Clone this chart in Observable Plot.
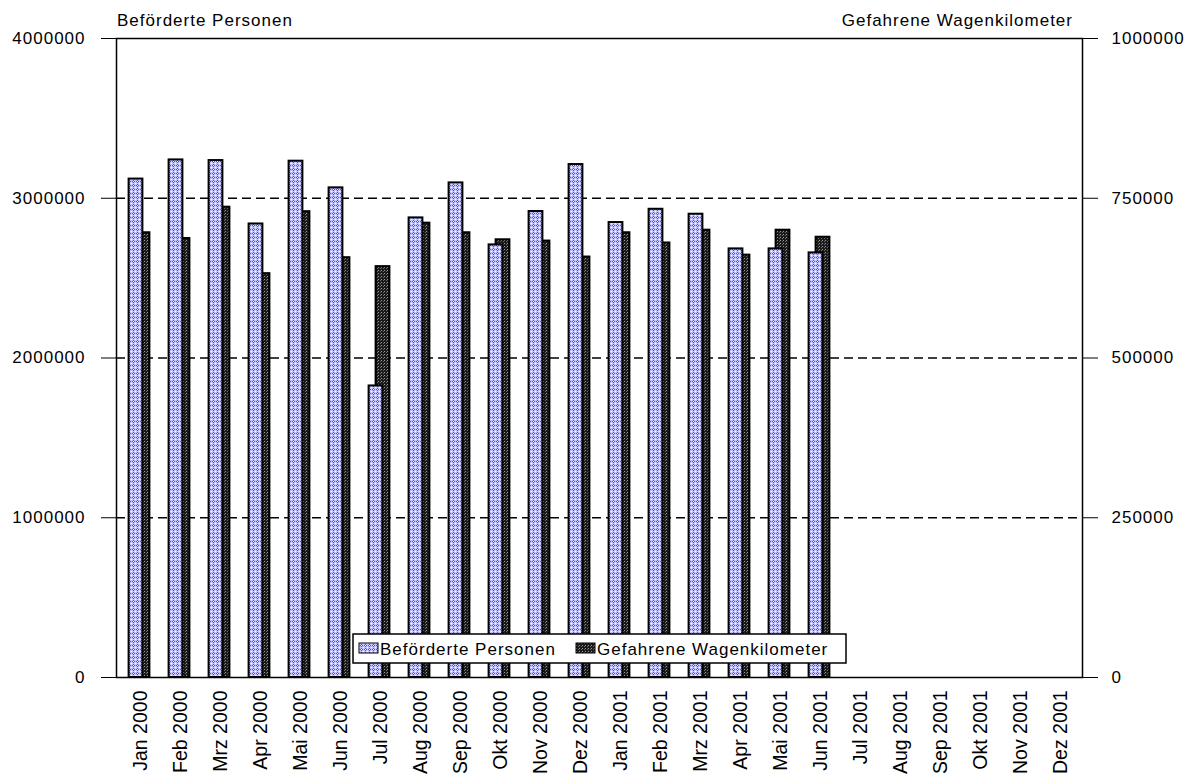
<!DOCTYPE html>
<html>
<head>
<meta charset="utf-8">
<script src="https://cdn.jsdelivr.net/npm/d3@7"></script>
<script src="https://cdn.jsdelivr.net/npm/@observablehq/plot@0.6"></script>
<style>
  body { margin: 0; background: #fff; }
  #chart svg text { letter-spacing: 1px; }
  #chart svg .xlab text { letter-spacing: 0px; font-size: 19.5px; }
</style>
</head>
<body>
<div id="chart"></div>
<script>
const months = ["Jan 2000","Feb 2000","Mrz 2000","Apr 2000","Mai 2000","Jun 2000","Jul 2000","Aug 2000","Sep 2000","Okt 2000","Nov 2000","Dez 2000",
                "Jan 2001","Feb 2001","Mrz 2001","Apr 2001","Mai 2001","Jun 2001","Jul 2001","Aug 2001","Sep 2001","Okt 2001","Nov 2001","Dez 2001"];
const persons = [3120000, 3240000, 3236000, 2839000, 3232000, 3065000, 1825000, 2877000, 3096000, 2708000, 2917000, 3211000,
                 2848000, 2931000, 2900000, 2683000, 2683000, 2658000, null, null, null, null, null, null];
const wagenkm = [696000, 687000, 736000, 632000, 729000, 657000, 643000, 711000, 696000, 685000, 683000, 658000,
                 696000, 680000, 700000, 661000, 700000, 689000, null, null, null, null, null, null];
const leftTicks = [0, 1000000, 2000000, 3000000, 4000000];
const rightTicks = [0, 250000, 500000, 750000, 1000000];
const gridValues = [1000000, 2000000, 3000000];
const seriesNames = ["Beförderte Personen", "Gefahrene Wagenkilometer"];

const ratio = leftTicks[4] / rightTicks[4];
const data = months.map((m, i) => ({month: m, persons: persons[i], km: wagenkm[i]}));
const pData = data.filter(d => d.persons != null);
const kData = data.filter(d => d.km != null);

const W = 1195, H = 776;
const chart = Plot.plot({
  width: W, height: H,
  marginLeft: 116, marginRight: 113, marginTop: 38, marginBottom: 99,
  style: {fontFamily: "'Liberation Sans', Arial, sans-serif", fontSize: "17px", background: "white", color: "black"},
  x: {type: "band", domain: months, padding: 0},
  y: {domain: [0, leftTicks[4]]},
  marks: [
    Plot.ruleY(gridValues, {stroke: "black", strokeWidth: 1.3, strokeDasharray: "9,5"}),
    Plot.barY(kData, {x: "month", y: d => d.km * ratio, fill: "url(#patDark)", stroke: "black", strokeWidth: 2, insetLeft: 16.6, insetRight: 9.6}),
    Plot.barY(pData, {x: "month", y: "persons", fill: "url(#patBlue)", stroke: "black", strokeWidth: 2, insetLeft: 9.6, insetRight: 16.6}),
    Plot.frame({stroke: "black", strokeWidth: 1.5}),
    Plot.axisY({anchor: "left", ticks: leftTicks, tickFormat: d => String(d), tickSize: 15, tickPadding: 16, label: null}),
    Plot.axisY({anchor: "right", ticks: leftTicks, tickFormat: d => String(d / ratio), tickSize: 15, tickPadding: 14, label: null}),
    Plot.axisX({tickRotate: -90, tickSize: 0, tickPadding: 13, label: null, className: "xlab", dx: 1})
  ]
});
document.getElementById("chart").appendChild(chart);

const svg = d3.select(chart);
const defs = svg.insert("defs", ":first-child");
const pb = defs.append("pattern").attr("id", "patBlue").attr("patternUnits", "userSpaceOnUse").attr("width", 4).attr("height", 4);
pb.append("rect").attr("width", 4).attr("height", 4).attr("fill", "#c4c4ff");
[[1,0],[0,1],[2,1],[1,2]].forEach(([x, y]) =>
  pb.append("rect").attr("x", x).attr("y", y).attr("width", 1).attr("height", 1).attr("fill", "#4a4aff"));
pb.append("rect").attr("x", 1).attr("y", 1).attr("width", 1).attr("height", 1).attr("fill", "#ffffff");
pb.append("rect").attr("x", 3).attr("y", 3).attr("width", 1).attr("height", 1).attr("fill", "#ffffff");
const pd = defs.append("pattern").attr("id", "patDark").attr("patternUnits", "userSpaceOnUse").attr("width", 3).attr("height", 3);
pd.append("rect").attr("width", 3).attr("height", 3).attr("fill", "#1a1a1a");
pd.append("rect").attr("x", 0).attr("y", 0).attr("width", 1).attr("height", 1).attr("fill", "#9a9a9a");
pd.append("rect").attr("x", 2).attr("y", 1).attr("width", 1).attr("height", 1).attr("fill", "#6a6a6a");

// axis titles
svg.append("text").attr("x", 117).attr("y", 26).attr("font-size", 17).attr("text-anchor", "start").text(seriesNames[0]);
svg.append("text").attr("x", 1073).attr("y", 26).attr("font-size", 17).attr("text-anchor", "end").text(seriesNames[1]);

// legend
const lg = svg.append("g").attr("text-anchor", "start");
lg.append("rect").attr("x", 353).attr("y", 634).attr("width", 493).attr("height", 29).attr("fill", "white").attr("stroke", "black").attr("stroke-width", 1.5);
lg.append("rect").attr("x", 359).attr("y", 643).attr("width", 19).attr("height", 10).attr("fill", "url(#patBlue)").attr("stroke", "black").attr("stroke-width", 1);
lg.append("text").attr("x", 380).attr("y", 655).attr("font-size", 17).text(seriesNames[0]);
lg.append("rect").attr("x", 576).attr("y", 643).attr("width", 19).attr("height", 10).attr("fill", "url(#patDark)").attr("stroke", "black").attr("stroke-width", 1);
lg.append("text").attr("x", 597).attr("y", 655).attr("font-size", 17).text(seriesNames[1]);
</script>
</body>
</html>
